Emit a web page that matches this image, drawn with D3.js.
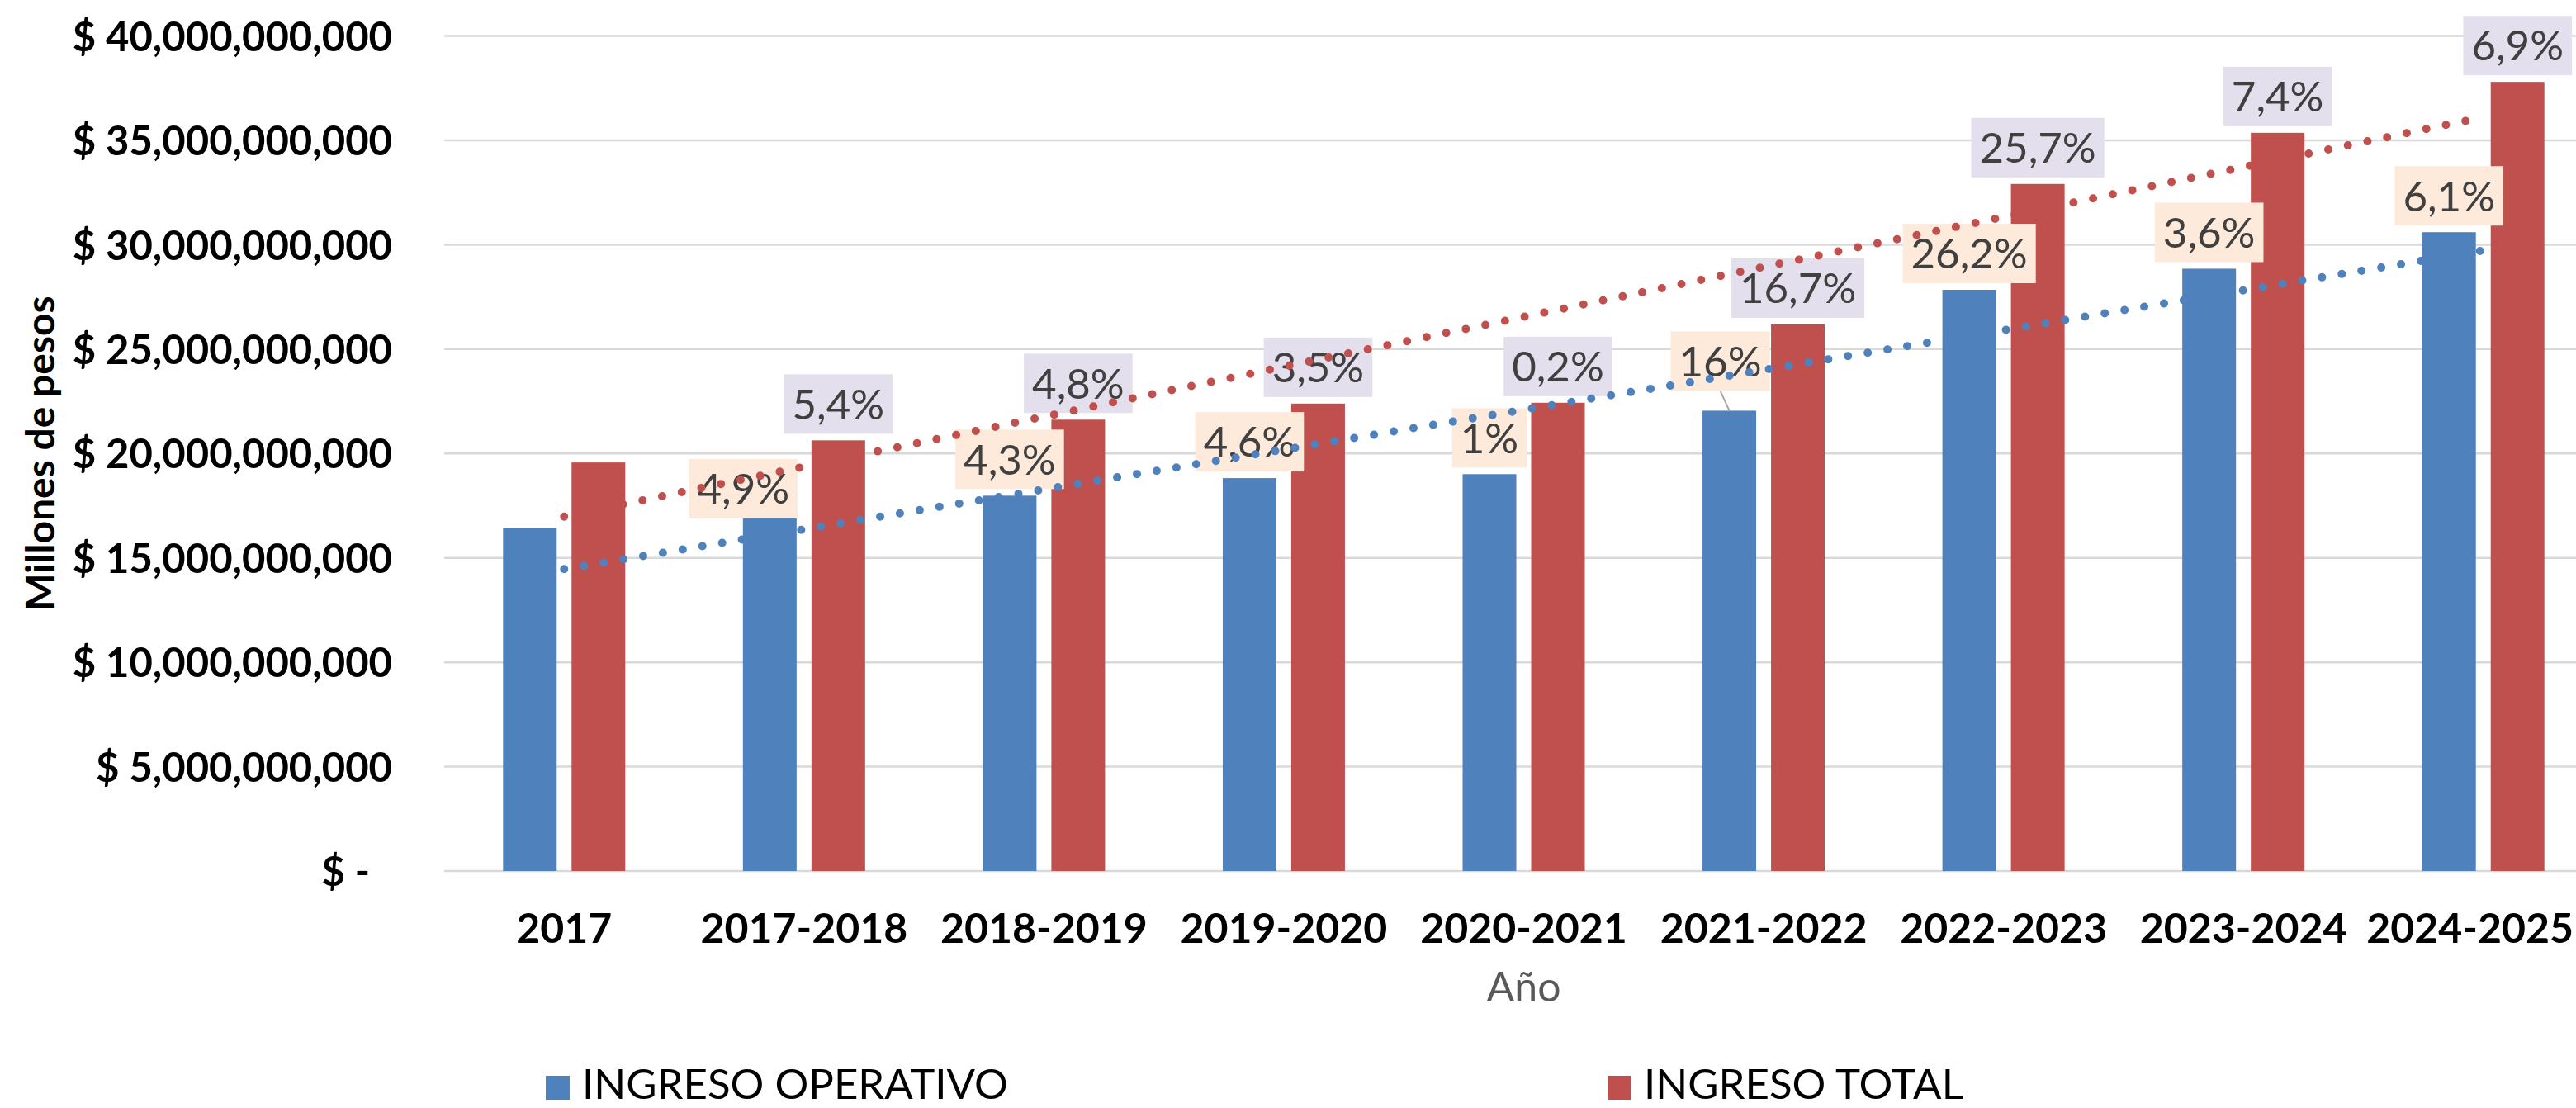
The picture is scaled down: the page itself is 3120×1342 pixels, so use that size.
<!DOCTYPE html>
<html lang="es">
<head>
<meta charset="utf-8">
<script src="https://cdn.jsdelivr.net/npm/d3@7"></script>
<style>
  html, body { margin: 0; padding: 0; background: #ffffff; }
  svg { display: block; }
</style>
</head>
<body>
<svg id="chart" width="3120" height="1342"></svg>
<script>
// ---- Data ----
const categories = ["2017", "2017-2018", "2018-2019", "2019-2020", "2020-2021",
                    "2021-2022", "2022-2023", "2023-2024", "2024-2025"];
const ingresoOperativo = [16.43e9, 17.24e9, 17.98e9, 18.82e9, 19.01e9,
                          22.05e9, 27.84e9, 28.85e9, 30.60e9];
const ingresoTotal = [19.57e9, 20.63e9, 21.62e9, 22.39e9, 22.43e9,
                      26.18e9, 32.91e9, 35.36e9, 37.80e9];
const crecimientoOperativo = [null, "4,9%", "4,3%", "4,6%", "1%", "16%", "26,2%", "3,6%", "6,1%"];
const crecimientoTotal = [null, "5,4%", "4,8%", "3,5%", "0,2%", "16,7%", "25,7%", "7,4%", "6,9%"];
const yTicks = [0, 5e9, 10e9, 15e9, 20e9, 25e9, 30e9, 35e9, 40e9];
const seriesNames = ["INGRESO OPERATIVO", "INGRESO TOTAL"];

// ---- Layout & style ----
const W = 3120, H = 1342;
const plot = { left: 538, right: 3153, top: 43.5, bottom: 1055 };
const colors = { op: "#4F81BD", tot: "#C0504D" };
const labelFill = { op: "#FDEADA", tot: "#E4DFEC" };
const font = "Lato, 'Open Sans', 'DejaVu Sans', sans-serif";
// hand-placed label offsets (series-index) -> [dx, dy, leader line]
const labelNudge = { "op-1": [-32, 17, false], "op-5": [-11, -16, true] };

const svg = d3.select("#chart");
svg.append("rect").attr("width", W).attr("height", H).attr("fill", "#ffffff");

const x0 = d3.scaleBand().domain(categories).range([plot.left, plot.right]).padding(0);
const bw = x0.bandwidth();
const x1 = d3.scaleBand().domain(["op", "tot"])
  .range([bw / 2 - 74, bw / 2 + 74]).paddingInner(0.2169).paddingOuter(0);
const y = d3.scaleLinear().domain([0, 40e9]).range([plot.bottom, plot.top]);

// Gridlines
svg.append("g").selectAll("line").data(yTicks).join("line")
  .attr("x1", plot.left).attr("x2", W)
  .attr("y1", d => y(d)).attr("y2", d => y(d))
  .attr("stroke", "#D9D9D9").attr("stroke-width", 2.5);

// Y axis
const yAxis = d3.axisLeft(y).tickValues(yTicks).tickSize(0).tickPadding(63)
  .tickFormat(d => d === 0 ? "$ -" : "$ " + d3.format(",")(d));
const gy = svg.append("g").attr("transform", `translate(${plot.left},0)`).call(yAxis);
gy.select(".domain").remove();
gy.selectAll("text")
  .attr("dy", "0.36em")
  .attr("font-family", font).attr("font-weight", 700).attr("font-size", 49)
  .attr("fill", "#000000")
  .attr("dx", d => d === 0 ? -27 : 0);

// X axis
const xAxis = d3.axisBottom(x0).tickSize(0);
const gx = svg.append("g").attr("transform", `translate(0,${plot.bottom})`).call(xAxis);
gx.select(".domain").remove();
gx.selectAll("text")
  .attr("y", 87).attr("dy", 0)
  .attr("font-family", font).attr("font-weight", 700).attr("font-size", 50)
  .attr("fill", "#000000");
// keep the outermost tick label inside the canvas
gx.selectAll(".tick").each(function (d) {
  const t = d3.select(this).select("text");
  const tx = x0(d) + bw / 2;
  const half = t.node().getComputedTextLength() / 2;
  const over = tx + half - (W - 3);
  if (over > 0) t.attr("dx", -over);
});

// Axis titles
svg.append("text")
  .attr("transform", `translate(66,549) rotate(-90)`)
  .attr("text-anchor", "middle")
  .attr("font-family", font).attr("font-weight", 700).attr("font-size", 48)
  .attr("fill", "#000000")
  .text("Millones de pesos");

svg.append("text")
  .attr("x", (plot.left + plot.right) / 2).attr("y", 1213)
  .attr("text-anchor", "middle")
  .attr("font-family", font).attr("font-size", 50)
  .attr("fill", "#595959")
  .text("Año");

// Bars
const rows = categories.map((c, i) => ({ c, i, op: ingresoOperativo[i], tot: ingresoTotal[i] }));
const groups = svg.append("g").selectAll("g").data(rows).join("g")
  .attr("transform", d => `translate(${x0(d.c)},0)`);
groups.selectAll("rect").data(d => ["op", "tot"].map(k => ({ k, v: d[k] }))).join("rect")
  .attr("x", d => x1(d.k)).attr("width", x1.bandwidth())
  .attr("y", d => y(d.v)).attr("height", d => y(0) - y(d.v))
  .attr("fill", d => colors[d.k]);

// Growth labels, boxed, above each bar
const labels = [];
categories.forEach((c, i) => {
  [["op", ingresoOperativo, crecimientoOperativo], ["tot", ingresoTotal, crecimientoTotal]]
    .forEach(([k, vals, growth]) => {
      if (!growth[i]) return;
      const cx = x0(c) + x1(k) + x1.bandwidth() / 2;
      const top = y(vals[i]);
      const n = labelNudge[`${k}-${i}`] || [0, 0, false];
      labels.push({ k, text: growth[i], barX: cx, barTop: top,
                    cx: cx + n[0], cy: top - 44 + n[1], leader: n[2] });
    });
});
const lg = svg.append("g");
labels.filter(d => d.leader).forEach(d => {
  lg.append("line")
    .attr("x1", d.cx).attr("y1", d.cy + 36)
    .attr("x2", d.barX).attr("y2", d.barTop)
    .attr("stroke", "#A6A6A6").attr("stroke-width", 2);
});
labels.forEach(d => {
  const g = lg.append("g");
  const rect = g.append("rect").attr("fill", labelFill[d.k]);
  const t = g.append("text")
    .attr("x", d.cx).attr("y", d.cy + 0.36 * 51)
    .attr("text-anchor", "middle")
    .attr("font-family", font).attr("font-size", 51)
    .attr("fill", "#404040")
    .text(d.text);
  const tw = t.node().getComputedTextLength();
  rect.attr("x", d.cx - tw / 2 - 10).attr("width", tw + 20)
    .attr("y", d.cy - 36).attr("height", 72);
});

// Linear trendlines (least squares over the category index)
function fit(vals) {
  const n = vals.length, mx = (n - 1) / 2, my = d3.mean(vals);
  const sxy = d3.sum(vals, (v, i) => (i - mx) * (v - my));
  const sxx = d3.sum(vals, (v, i) => (i - mx) * (i - mx));
  const b = sxy / sxx, a = my - b * mx;
  return [a, a + b * (n - 1)];
}
const center = c => x0(c) + bw / 2;
[["op", ingresoOperativo], ["tot", ingresoTotal]].forEach(([k, vals]) => {
  const [v0, v1] = fit(vals);
  const pts = [[center(categories[0]), y(v0)], [center(categories[categories.length - 1]), y(v1)]];
  svg.append("path")
    .attr("d", d3.line()(pts))
    .attr("fill", "none")
    .attr("stroke", colors[k]).attr("stroke-width", 10)
    .attr("stroke-linecap", "round")
    .attr("stroke-dasharray", "0 24.25");
});

// Legend
const legendItems = [
  { name: seriesNames[0], k: "op", x: 661 },
  { name: seriesNames[1], k: "tot", x: 1947 }
];
const lgd = svg.append("g");
legendItems.forEach(d => {
  lgd.append("rect").attr("x", d.x).attr("y", 1303).attr("width", 29).attr("height", 29)
    .attr("fill", colors[d.k]);
  lgd.append("text").attr("x", d.x + 44).attr("y", 1331)
    .attr("font-family", font).attr("font-size", 51).attr("fill", "#000000")
    .text(d.name);
});
</script>
</body>
</html>
